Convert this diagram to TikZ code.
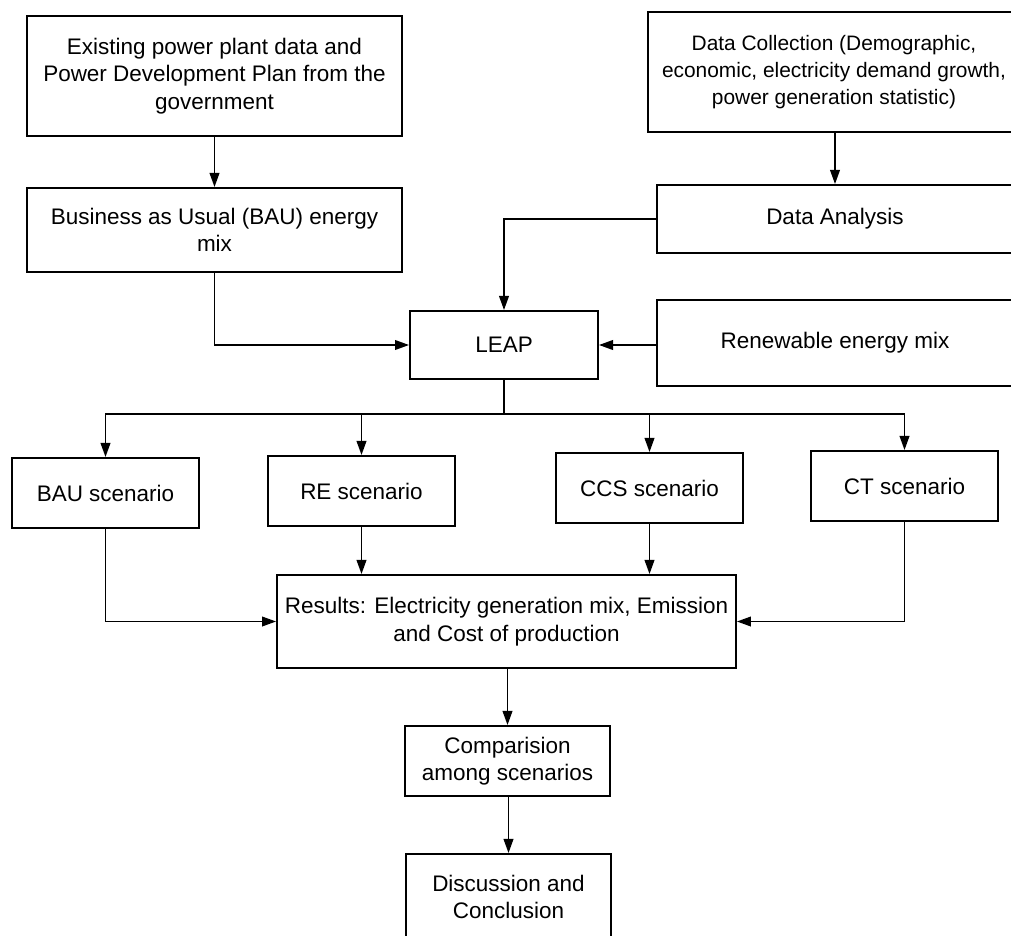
\documentclass[tikz,border=0pt]{standalone}
\usepackage{fontspec}
\setmainfont{Liberation Sans}
\usetikzlibrary{positioning,arrows.meta}

\tikzset{
  stepbox/.style={draw, line width=1.1pt, align=center, inner sep=0pt,
    font=\fontsize{12.8}{15.6}\selectfont},
  flow/.style={-{Triangle[length=8pt,width=5.5pt]}, line width=1pt}
}

\begin{document}
\begin{tikzpicture}[x=0.02cm, y=-0.02cm]
    \useasboundingbox (0,0) rectangle (1011,936);
    \clip (0,0) rectangle (1011,936);

    % input side
    \node[stepbox, minimum width=7.5cm, minimum height=2.4cm] (exist) at (214.5,76)
      {Existing power plant data and\\Power Development Plan from the\\government};
    \node[stepbox, minimum width=7.5cm, minimum height=1.68cm] (baumix) at (214.5,230)
      {Business as Usual (BAU) energy\\mix};
    \node[stepbox, minimum width=7.44cm, minimum height=2.4cm,
      font=\fontsize{11.9}{15.4}\selectfont] (collect) at (834,72)
      {Data Collection (Demographic,\\economic, electricity demand growth,\\power generation statistic)};
    \node[stepbox, minimum width=7.12cm, minimum height=1.36cm] (analysis) at (835,219)
      {Data Analysis};
    \node[stepbox, minimum width=3.76cm, minimum height=1.36cm] (leap) at (504,345)
      {LEAP};
    \node[stepbox, minimum width=7.12cm, minimum height=1.72cm] (renew) at (835,343)
      {Renewable energy mix};

    % scenarios
    \node[stepbox, minimum width=3.74cm, minimum height=1.4cm] (bausc) at (105.5,493) {BAU scenario};
    \node[stepbox, minimum width=3.74cm, minimum height=1.4cm] (resc) at (361.5,491) {RE scenario};
    \node[stepbox, minimum width=3.74cm, minimum height=1.4cm] (ccssc) at (649.5,488) {CCS scenario};
    \node[stepbox, minimum width=3.74cm, minimum height=1.4cm] (ctsc) at (904.5,486) {CT scenario};

    % output side
    \node[stepbox, minimum width=9.18cm, minimum height=1.86cm] (results) at (506.5,621.5)
      {Results: Electricity generation mix, Emission\\and Cost of production};
    \node[stepbox, minimum width=4.1cm, minimum height=1.4cm] (compare) at (507.5,761)
      {Comparision\\among scenarios};
    \node[stepbox, minimum width=4.1cm, minimum height=1.72cm] (discuss) at (508.5,897)
      {Discussion and\\Conclusion};

    \coordinate (split) at (504,414);

    \draw[flow] (exist) -- (baumix);
    \draw[flow] (collect.south -| analysis.north) -- (analysis.north);
    \draw[flow] (baumix.south) |- (leap.west);
    \draw[flow] (analysis.west) -| (leap.north);
    \draw[flow] (renew.west |- leap.east) -- (leap.east);
    \draw[line width=1pt] (leap.south) -- (split);
    \foreach \sc in {bausc,resc,ccssc,ctsc}
      \draw[flow] (split) -| (\sc.north);
    \draw[flow] (resc.south) -- (resc.south |- results.north);
    \draw[flow] (ccssc.south) -- (ccssc.south |- results.north);
    \draw[flow] (bausc.south) |- (results.west);
    \draw[flow] (ctsc.south) |- (results.east);
    \draw[flow] (results.south -| compare.north) -- (compare.north);
    \draw[flow] (compare.south -| discuss.north) -- (discuss.north);
\end{tikzpicture}
\end{document}
